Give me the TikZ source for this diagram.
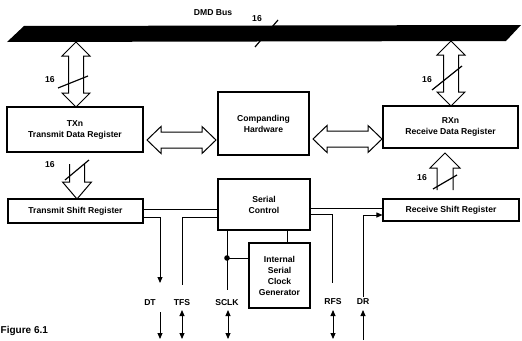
\documentclass[tikz,border=0pt]{standalone}
\usepackage{fontspec}
\setmainfont{Liberation Sans}
\usetikzlibrary{arrows.meta}
\tikzset{
  box/.style={draw, line width=1.1pt, inner sep=0pt, align=center, font=\bfseries\fontsize{8.6}{11}\selectfont},
  lbl/.style={inner sep=0pt, font=\bfseries\fontsize{8.6}{11}\selectfont},
  blk/.style={draw, line width=1pt, fill=white, line join=miter},
  wire/.style={line width=0.9pt},
  tip/.style={-{Triangle[length=6pt,width=5pt]}},
  dtip/.style={{Triangle[length=6pt,width=5pt]}-{Triangle[length=6pt,width=5pt]}},
  slash/.style={line width=1.2pt}
}
\newcommand\vdbl[3]{%
  \draw[blk] (#1,#2) -- ({#1+14},{#2+14}) -- ({#1+7.5},{#2+14}) -- ({#1+7.5},{#3-14}) -- ({#1+14},{#3-14}) -- (#1,#3) -- ({#1-14},{#3-14}) -- ({#1-7.5},{#3-14}) -- ({#1-7.5},{#2+14}) -- ({#1-14},{#2+14}) -- cycle;}
\newcommand\hdbl[3]{%
  \draw[blk] (#2,#1) -- ({#2+14},{#1-13.5}) -- ({#2+14},{#1-8}) -- ({#3-14},{#1-8}) -- ({#3-14},{#1-13.5}) -- (#3,#1) -- ({#3-14},{#1+13.5}) -- ({#3-14},{#1+8}) -- ({#2+14},{#1+8}) -- ({#2+14},{#1+13.5}) -- cycle;}
\begin{document}
\begin{tikzpicture}[x=1pt,y=-1pt]
\useasboundingbox (0,0) rectangle (522,340);
% bus
\draw[slash] (255,47) -- (278,20);
\fill[black] (7,42) -- (24,26) -- (521,25) -- (506,41) -- cycle;
\node[lbl] (buslbl) at (213,13) {DMD Bus};
\node[lbl] (bus16) at (257,19) {16};
% boxes
\node[box, minimum width=136pt, minimum height=45pt] (txd) at (75,129.5) {TXn\\Transmit Data Register};
\node[box, minimum width=91pt, minimum height=63pt] (comp) at (263.5,123.5) {Companding\\Hardware};
\node[box, minimum width=135pt, minimum height=42pt] (rxd) at (450.5,127) {RXn\\Receive Data Register};
\node[box, minimum width=135pt, minimum height=24pt] (txs) at (75.5,211) {Transmit Shift Register};
\node[box, minimum width=136pt, minimum height=22pt] (rxs) at (451,210) {Receive Shift Register};
\node[box, minimum width=92pt, minimum height=51pt] (ser) at (264,204.5) {Serial\\Control};
\node[box, minimum width=61pt, minimum height=65pt] (clk) at (279.5,275.5) {Internal\\Serial\\Clock\\Generator};
% block arrows
\vdbl{76}{42}{107}
\draw[slash] (58,88) -- (88,76);
\node[lbl] (l16a) at (50,80) {16};
\vdbl{451}{41}{106}
\draw[slash] (432,90) -- (462,66);
\node[lbl] (r16a) at (427,80) {16};
\hdbl{140}{147}{216}
\hdbl{139}{313}{382}
% TX down
\draw[blk] (69.5,164) -- (69.5,182) -- (62.5,182) -- (77,199) -- (91.5,182) -- (84.5,182) -- (84.5,164);
\draw[slash] (65,180) -- (89,160);
\node[lbl] (l16b) at (50,165) {16};
% RX up
\draw[blk] (437,190) -- (437,168) -- (430,168) -- (445,153) -- (460,168) -- (453,168) -- (453,190);
\draw[slash] (433,189) -- (457,175);
\node[lbl] (r16b) at (422,178) {16};
% wires
\coordinate (dtend) at (160,283);
\coordinate (tfsend) at (182,285);
\coordinate (sclkend) at (227,290);
\coordinate (rfsend) at (332,283);
\coordinate (drstart) at (363,297);
\draw[wire] (txs.east |- 0,209) -- (ser.west |- 0,209);
\draw[wire,tip] (txs.east |- 0,217) -| (dtend);
\draw[wire] (ser.west |- 0,217) -| (tfsend);
\draw[wire] (ser.south -| sclkend) -- (sclkend);
\coordinate (dot) at (227,258);
\fill (dot) circle (2.8pt);
\draw[wire] (dot) -- (clk.west |- dot);
\draw[wire] (ser.south -| 287,0) -- (clk.north -| 287,0);
\draw[wire] (ser.east |- 0,208) -- (rxs.west |- 0,208);
\draw[wire] (ser.east |- 0,214) -| (rfsend);
\draw[wire,tip] (drstart) |- (rxs.west |- 0,215);
% pin labels
\node[lbl] (dt) at (150,303) {DT};
\node[lbl] (tfs) at (182,303) {TFS};
\node[lbl] (sclk) at (227,303) {SCLK};
\node[lbl] (rfs) at (333,302) {RFS};
\node[lbl] (dr) at (363,302) {DR};
% pin arrows
\coordinate (dta) at (160,312); \coordinate (dtb) at (160,339);
\coordinate (tfsa) at (182,310); \coordinate (tfsb) at (182,339);
\coordinate (sca) at (228,310); \coordinate (scb) at (228,339);
\coordinate (rfa) at (333,310); \coordinate (rfb) at (333,339);
\coordinate (dra) at (363,310); \coordinate (drb) at (363,340);
\draw[wire,tip] (dta) -- (dtb);
\draw[wire,dtip] (tfsa) -- (tfsb);
\draw[wire,dtip] (sca) -- (scb);
\draw[wire,dtip] (rfa) -- (rfb);
\draw[wire,tip] (drb) -- (dra);
\node[anchor=base west, inner sep=0pt, font=\bfseries\fontsize{10}{12}\selectfont] (fig) at (0.5,333.5) {Figure 6.1};
\end{tikzpicture}
\end{document}
